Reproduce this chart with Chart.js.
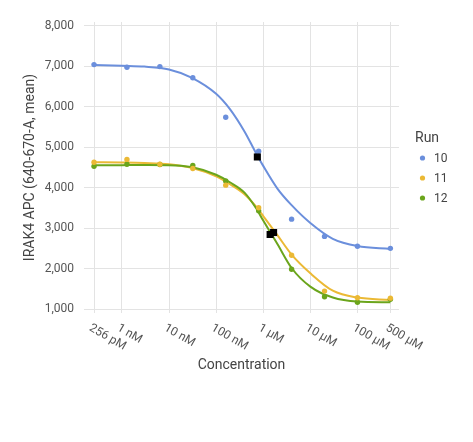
<!DOCTYPE html>
<html>
<head>
<meta charset="utf-8">
<script src="https://cdn.jsdelivr.net/npm/chart.js@4.4.1/dist/chart.umd.min.js"></script>
<style>
  html, body { margin: 0; padding: 0; background: #fff; }
  canvas { display: block; }
</style>
</head>
<body>
<canvas id="ic50" width="473" height="442"></canvas>
<script>
// measured concentrations (M), 5-fold dilution series
var conc = [2.56e-10, 1.28e-9, 6.4e-9, 3.2e-8, 1.6e-7, 8e-7, 4e-6, 2e-5, 1e-4, 5e-4];
var run10 = [7040, 6975, 6990, 6715, 5740, 4900, 3225, 2800, 2555, 2505];
var run11 = [4630, 4700, 4580, 4475, 4065, 3505, 2335, 1450, 1285, 1275];
var run12 = [4530, 4580, 4575, 4550, 4165, 3430, 1990, 1310, 1175, 1250];

// fitted curves
var curveConc = [2.56e-10, 1e-9, 3e-9, 1e-8, 3e-8, 1e-7, 2e-7, 4e-7, 7e-7, 1e-6, 2e-6, 4e-6, 1e-5, 3e-5, 1e-4, 5e-4];
var fit10 = [7030, 7010, 6990, 6920, 6720, 6320, 5930, 5390, 4860, 4540, 3980, 3570, 3130, 2740, 2560, 2490];
var fit11 = [4630, 4622, 4610, 4580, 4490, 4280, 4080, 3840, 3540, 3300, 2830, 2350, 1890, 1460, 1290, 1230];
var fit12 = [4555, 4558, 4560, 4558, 4510, 4320, 4130, 3880, 3500, 3190, 2610, 2020, 1560, 1290, 1190, 1173];

// IC50 markers
var ic50Conc = [7.5e-7, 1.66e-6, 1.4e-6];
var ic50Val = [4760, 2895, 2847];

var runNames = ['10', '11', '12'];
var runColors = ['#6b8fdc', '#ebb935', '#6ba51c'];

var xTicks = [2.56e-10, 1e-9, 1e-8, 1e-7, 1e-6, 1e-5, 1e-4, 5e-4];
var xTickLabels = ['256 pM', '1 nM', '10 nM', '100 nM', '1 \u00b5M', '10 \u00b5M', '100 \u00b5M', '500 \u00b5M'];
var yTicks = [1000, 2000, 3000, 4000, 5000, 6000, 7000, 8000];

function pairs(xs, ys) {
    return ys.map(function (y, i) { return { x: xs[i], y: y }; });
}

Chart.defaults.font.family = 'Roboto';

var labelsPlugin = {
    id: 'labels',
    afterDraw: function (chart) {
        var ctx = chart.ctx;
        var area = chart.chartArea;
        var xs = chart.scales.x;
        var ys = chart.scales.y;
        ctx.save();

        // y tick labels
        ctx.fillStyle = '#555';
        ctx.font = '12px Roboto';
        ctx.textAlign = 'right';
        ctx.textBaseline = 'middle';
        yTicks.forEach(function (v) {
            ctx.fillText(v.toLocaleString('en-US'), area.left - 10, ys.getPixelForValue(v));
        });

        // x tick labels, slanted
        ctx.textAlign = 'left';
        ctx.textBaseline = 'top';
        xTicks.forEach(function (v, i) {
            ctx.save();
            ctx.translate(xs.getPixelForValue(v) - 1, area.bottom + 9);
            ctx.rotate(Math.PI / 6);
            ctx.fillText(xTickLabels[i], 0, 0);
            ctx.restore();
        });

        // axis titles
        ctx.fillStyle = '#444';
        ctx.font = '14px Roboto';
        ctx.textAlign = 'center';
        ctx.textBaseline = 'middle';
        ctx.fillText('Concentration', (area.left + area.right) / 2, 365);
        ctx.save();
        ctx.translate(30, (area.top + area.bottom) / 2);
        ctx.rotate(-Math.PI / 2);
        ctx.fillText('IRAK4 APC (640-670-A, mean)', 0, 0);
        ctx.restore();

        // legend
        ctx.textAlign = 'left';
        ctx.textBaseline = 'alphabetic';
        ctx.fillText('Run', 415, 142);
        ctx.font = '12px Roboto';
        ctx.textBaseline = 'middle';
        runNames.forEach(function (name, i) {
            var y = 158 + i * 20;
            ctx.fillStyle = runColors[i];
            ctx.beginPath();
            ctx.arc(422.5, y, 2.6, 0, Math.PI * 2);
            ctx.fill();
            ctx.fillStyle = '#444';
            ctx.fillText(name, 434, y + 0.5);
        });
        ctx.restore();
    }
};

var datasets = [
    {
        label: 'IC50',
        data: pairs(ic50Conc, ic50Val),
        backgroundColor: '#000',
        borderWidth: 0,
        pointStyle: 'rect',
        pointRadius: 5,
        order: 0
    }
];
[run10, run11, run12].forEach(function (vals, i) {
    datasets.push({
        label: 'Run ' + runNames[i],
        data: pairs(conc, vals),
        backgroundColor: runColors[i],
        borderWidth: 0,
        pointRadius: 2.7,
        order: 1
    });
});
[fit10, fit11, fit12].forEach(function (vals, i) {
    datasets.push({
        label: 'Fit ' + runNames[i],
        data: pairs(curveConc, vals),
        showLine: true,
        borderColor: runColors[i],
        borderWidth: 2,
        pointRadius: 0,
        cubicInterpolationMode: 'monotone',
        order: [4, 3, 2][i]
    });
});

var ctx = document.getElementById('ic50').getContext('2d');
var chart = new Chart(ctx, {
    type: 'scatter',
    data: { datasets: datasets },
    options: {
        responsive: false,
        animation: false,
        layout: { padding: { left: 84, right: 74, top: 22, bottom: 129 } },
        plugins: {
            legend: { display: false },
            tooltip: { enabled: false }
        },
        scales: {
            x: {
                type: 'logarithmic',
                min: 1.569e-10,
                max: 7.62e-4,
                afterBuildTicks: function (scale) {
                    scale.ticks = xTicks.map(function (v) { return { value: v }; });
                },
                ticks: { display: false },
                grid: { color: '#e3e3e3', drawTicks: false },
                border: { display: false }
            },
            y: {
                min: 909,
                max: 8091,
                afterBuildTicks: function (scale) {
                    scale.ticks = yTicks.map(function (v) { return { value: v }; });
                },
                ticks: { display: false },
                grid: { color: '#e3e3e3', drawTicks: false },
                border: { display: false }
            }
        }
    },
    plugins: [labelsPlugin]
});
</script>
</body>
</html>
